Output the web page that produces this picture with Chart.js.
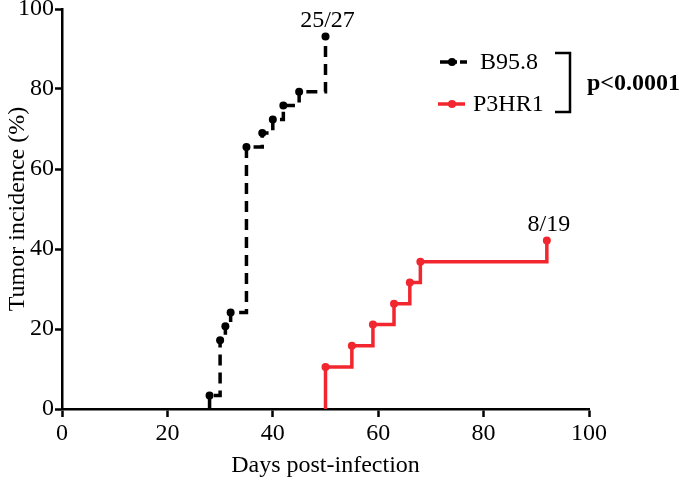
<!DOCTYPE html>
<html>
<head>
<meta charset="utf-8">
<script src="https://cdn.jsdelivr.net/npm/chart.js@4"></script>
<style>
  html, body { margin: 0; padding: 0; background: #fff; }
  #wrap { width: 682px; height: 483px; position: relative; }
</style>
</head>
<body>
<div id="wrap"><canvas id="c"></canvas></div>
<script>
// ---- data ----
const seriesNames = ['B95.8', 'P3HR1'];
const b958Days = [28, 30, 31, 32, 35, 38, 40, 42, 45, 50];
const b958Incidence = [3.4, 17.2, 20.7, 24.1, 65.5, 69.0, 72.4, 75.9, 79.3, 93.1];
const p3hr1Days = [50, 55, 59, 63, 66, 68, 92];
const p3hr1Incidence = [10.5, 15.8, 21.1, 26.3, 31.6, 36.8, 42.1];
const endLabels = ['25/27', '8/19'];
const xTicks = [0, 20, 40, 60, 80, 100];
const yTicks = [0, 20, 40, 60, 80, 100];
const pValueText = 'p<0.0001';
const xTitle = 'Days post-infection';
const yTitle = 'Tumor incidence (%)';

const BLACK = '#000000';
const RED = 'rgb(242,38,46)';
const FONT = '"Liberation Serif", "Times New Roman", serif';

function buildSeries(days, vals) {
  // curve starts from 0 at the first event day
  const pts = [{x: days[0], y: 0}];
  days.forEach((d, i) => pts.push({x: d, y: vals[i]}));
  return pts;
}
function radii(days) {
  return [0].concat(days.map(() => 4));
}

const annotPlugin = {
  id: 'annot',
  afterDraw(chart) {
    const ctx = chart.ctx;
    const xs = chart.scales.x, ys = chart.scales.y;
    ctx.save();
    // end labels
    ctx.fillStyle = BLACK;
    ctx.font = '24px ' + FONT;
    ctx.textAlign = 'center';
    ctx.textBaseline = 'alphabetic';
    const ends = [
      [b958Days[b958Days.length - 1], b958Incidence[b958Incidence.length - 1]],
      [p3hr1Days[p3hr1Days.length - 1], p3hr1Incidence[p3hr1Incidence.length - 1]]
    ];
    ends.forEach((e, i) => {
      const px = xs.getPixelForValue(e[0]);
      const py = ys.getPixelForValue(e[1]);
      ctx.fillText(endLabels[i], px + 2, py - 10);
    });

    // legend
    ctx.lineCap = 'butt';
    // black sample
    ctx.strokeStyle = BLACK;
    ctx.lineWidth = 3.5;
    ctx.setLineDash([17, 3]);
    ctx.beginPath(); ctx.moveTo(440, 62); ctx.lineTo(467, 62); ctx.stroke();
    ctx.setLineDash([]);
    ctx.fillStyle = BLACK;
    ctx.beginPath(); ctx.arc(452, 62, 4, 0, Math.PI * 2); ctx.fill();
    // red sample
    ctx.strokeStyle = RED;
    ctx.beginPath(); ctx.moveTo(438, 104); ctx.lineTo(465, 104); ctx.stroke();
    ctx.fillStyle = RED;
    ctx.beginPath(); ctx.arc(452, 104, 4, 0, Math.PI * 2); ctx.fill();

    ctx.fillStyle = BLACK;
    ctx.textAlign = 'left';
    ctx.textBaseline = 'middle';
    ctx.font = '24px ' + FONT;
    ctx.fillText(seriesNames[0], 480, 63);
    ctx.fillText(seriesNames[1], 473, 105);

    // bracket
    ctx.strokeStyle = BLACK;
    ctx.lineWidth = 2.5;
    ctx.beginPath();
    ctx.moveTo(555, 53); ctx.lineTo(570, 53); ctx.lineTo(570, 112); ctx.lineTo(555, 112);
    ctx.stroke();
    ctx.font = 'bold 24px ' + FONT;
    ctx.fillText(pValueText, 587, 84);
    ctx.restore();
  }
};

new Chart(document.getElementById('c'), {
  type: 'line',
  data: {
    datasets: [
      {
        label: seriesNames[0],
        data: buildSeries(b958Days, b958Incidence),
        stepped: 'before',
        borderColor: BLACK,
        backgroundColor: BLACK,
        borderWidth: 3.5,
        borderDash: [11, 7],
        borderCapStyle: 'butt',
        pointRadius: radii(b958Days),
        pointHoverRadius: 0,
        pointBackgroundColor: BLACK,
        pointBorderWidth: 0,
        fill: false,
        clip: false
      },
      {
        label: seriesNames[1],
        data: buildSeries(p3hr1Days, p3hr1Incidence),
        stepped: 'before',
        borderColor: RED,
        backgroundColor: RED,
        borderWidth: 3.5,
        borderCapStyle: 'butt',
        pointRadius: radii(p3hr1Days),
        pointHoverRadius: 0,
        pointBackgroundColor: RED,
        pointBorderWidth: 0,
        fill: false,
        clip: false
      }
    ]
  },
  options: {
    responsive: true,
    maintainAspectRatio: false,
    animation: false,
    devicePixelRatio: 1,
    layout: {padding: {top: 9, right: 93, bottom: 0, left: 0}},
    plugins: {legend: {display: false}, tooltip: {enabled: false}},
    scales: {
      x: {
        type: 'linear',
        min: 0, max: 100,
        afterBuildTicks(scale) { scale.ticks = xTicks.map(v => ({value: v})); },
        afterFit(scale) { scale.height = 74; },
        ticks: {color: BLACK, font: {family: FONT, size: 24}, padding: 2, maxRotation: 0},
        grid: {display: true, drawOnChartArea: false, drawTicks: true, tickLength: 8, tickWidth: 2.5, tickColor: BLACK},
        border: {display: true, color: BLACK, width: 2.5},
        title: {display: true, text: xTitle, color: BLACK, font: {family: FONT, size: 24}, padding: {top: 0, bottom: 3}}
      },
      y: {
        type: 'linear',
        min: 0, max: 100,
        afterBuildTicks(scale) { scale.ticks = yTicks.map(v => ({value: v})); },
        afterFit(scale) { scale.width = 62; scale.paddingTop = 0; scale.paddingBottom = 0; },
        ticks: {color: BLACK, font: {family: FONT, size: 24, lineHeight: 0.7}, padding: 1},
        grid: {display: true, drawOnChartArea: false, drawTicks: true, tickLength: 7, tickWidth: 2.5, tickColor: BLACK},
        border: {display: true, color: BLACK, width: 2.5},
        title: {display: true, text: yTitle, color: BLACK, font: {family: FONT, size: 24}, padding: {top: 3, bottom: 0}}
      }
    }
  },
  plugins: [annotPlugin]
});
</script>
</body>
</html>
